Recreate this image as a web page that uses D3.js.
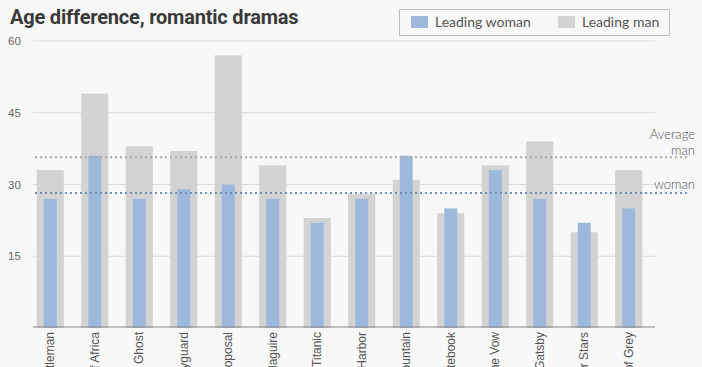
<!DOCTYPE html>
<html>
<head>
<meta charset="utf-8">
<script src="https://cdn.jsdelivr.net/npm/d3@7"></script>
<style>
  html, body { margin: 0; padding: 0; background: #f8f8f8; }
  svg { display: block; }
</style>
</head>
<body>
<svg id="chart" width="702" height="367"></svg>
<script>
const films = ['An Officer and a Gentleman', 'Out of Africa', 'Ghost', 'The Bodyguard',
  'The Proposal', 'Jerry Maguire', 'Titanic', 'Pearl Harbor', 'Brokeback Mountain',
  'The Notebook', 'The Vow', 'The Great Gatsby', 'The Fault in Our Stars', 'Fifty Shades of Grey'];
const womanAge = [27, 36, 27, 29, 30, 27, 22, 27, 36, 25, 33, 27, 22, 25];
const manAge = [33, 49, 38, 37, 57, 34, 23, 28, 31, 24, 34, 39, 20, 33];
const yTicks = [15, 30, 45, 60];
const averageMan = 35.7;
const averageWoman = 28.2;

const svg = d3.select('#chart');

const x = d3.scaleBand()
  .domain(films)
  .range([28, 651])
  .paddingInner(0.39)
  .paddingOuter(0.195);

const y = d3.scaleLinear()
  .domain([0, 60])
  .range([328, 41]);

// gridlines + tick labels
const grid = svg.append('g');
yTicks.forEach(t => {
  grid.append('line')
    .attr('x1', 33).attr('x2', 655)
    .attr('y1', y(t)).attr('y2', y(t))
    .attr('stroke', '#dcdcdc').attr('stroke-width', 1);
  grid.append('text')
    .attr('x', 8).attr('y', y(t)).attr('dy', '0.35em')
    .attr('font-family', 'Liberation Sans, Arial, sans-serif')
    .attr('font-size', 11.5).attr('fill', '#666')
    .text(t);
});

// bars
const bars = svg.append('g');
bars.selectAll('rect.man')
  .data(films)
  .enter().append('rect')
  .attr('class', 'man')
  .attr('x', d => x(d))
  .attr('width', x.bandwidth())
  .attr('y', (d, i) => y(manAge[i]))
  .attr('height', (d, i) => y(0) - y(manAge[i]))
  .attr('fill', '#d3d3d3');

const blueW = 13;
bars.selectAll('rect.woman')
  .data(films)
  .enter().append('rect')
  .attr('class', 'woman')
  .attr('x', d => x(d) + x.bandwidth() / 2 - blueW / 2)
  .attr('width', blueW)
  .attr('y', (d, i) => y(womanAge[i]))
  .attr('height', (d, i) => y(0) - y(womanAge[i]))
  .attr('fill', '#9cb9dd');

// baseline
svg.append('line')
  .attr('x1', 33).attr('x2', 655)
  .attr('y1', 327).attr('y2', 327)
  .attr('stroke', '#888').attr('stroke-width', 1.2);

// category labels, rotated
svg.append('g').selectAll('text')
  .data(films)
  .enter().append('text')
  .attr('transform', d => `translate(${x(d) + x.bandwidth() / 2},332) rotate(-90)`)
  .attr('dy', '0.35em')
  .attr('text-anchor', 'end')
  .attr('font-family', 'Liberation Sans, Arial, sans-serif')
  .attr('font-size', 12)
  .attr('fill', '#555')
  .text(d => d);

// average lines
svg.append('line')
  .attr('x1', 35).attr('x2', 690)
  .attr('y1', y(averageMan)).attr('y2', y(averageMan))
  .attr('stroke', '#a9a9a9').attr('stroke-width', 2)
  .attr('stroke-dasharray', '2,3');
svg.append('line')
  .attr('x1', 35).attr('x2', 690)
  .attr('y1', y(averageWoman)).attr('y2', y(averageWoman))
  .attr('stroke', '#6f8db3').attr('stroke-width', 2)
  .attr('stroke-dasharray', '2,3');

// average labels
const avgLabel = svg.append('g')
  .attr('font-family', 'Lato, sans-serif')
  .attr('font-weight', 300)
  .attr('font-size', 13)
  .attr('fill', '#555')
  .attr('text-anchor', 'end');
avgLabel.append('text').attr('x', 695).attr('y', y(averageMan) - 18.5).text('Average');
avgLabel.append('text').attr('x', 695).attr('y', y(averageMan) - 2.5).text('man');
avgLabel.append('text').attr('x', 695).attr('y', y(averageWoman) - 4.5).text('woman');

// title
svg.append('text')
  .attr('x', 10).attr('y', 24)
  .attr('font-family', 'Roboto, sans-serif')
  .attr('font-weight', 700)
  .attr('font-size', 20)
  .attr('fill', '#3a3a3a')
  .attr('letter-spacing', -0.2)
  .text('Age difference, romantic dramas');

// legend
const legend = svg.append('g');
legend.append('rect')
  .attr('x', 399.5).attr('y', 9.5)
  .attr('width', 270).attr('height', 26)
  .attr('fill', '#f8f8f8')
  .attr('stroke', '#bdbdbd');
const legendItems = [
  { label: 'Leading woman', color: '#9cb9dd', x: 411 },
  { label: 'Leading man', color: '#d3d3d3', x: 558 }
];
legendItems.forEach(it => {
  legend.append('rect')
    .attr('x', it.x).attr('y', 16)
    .attr('width', 17).attr('height', 12)
    .attr('fill', it.color);
  legend.append('text')
    .attr('x', it.x + 24).attr('y', 27)
    .attr('font-family', 'Lato, sans-serif')
    .attr('font-size', 14)
    .attr('fill', '#555')
    .text(it.label);
});
</script>
</body>
</html>
